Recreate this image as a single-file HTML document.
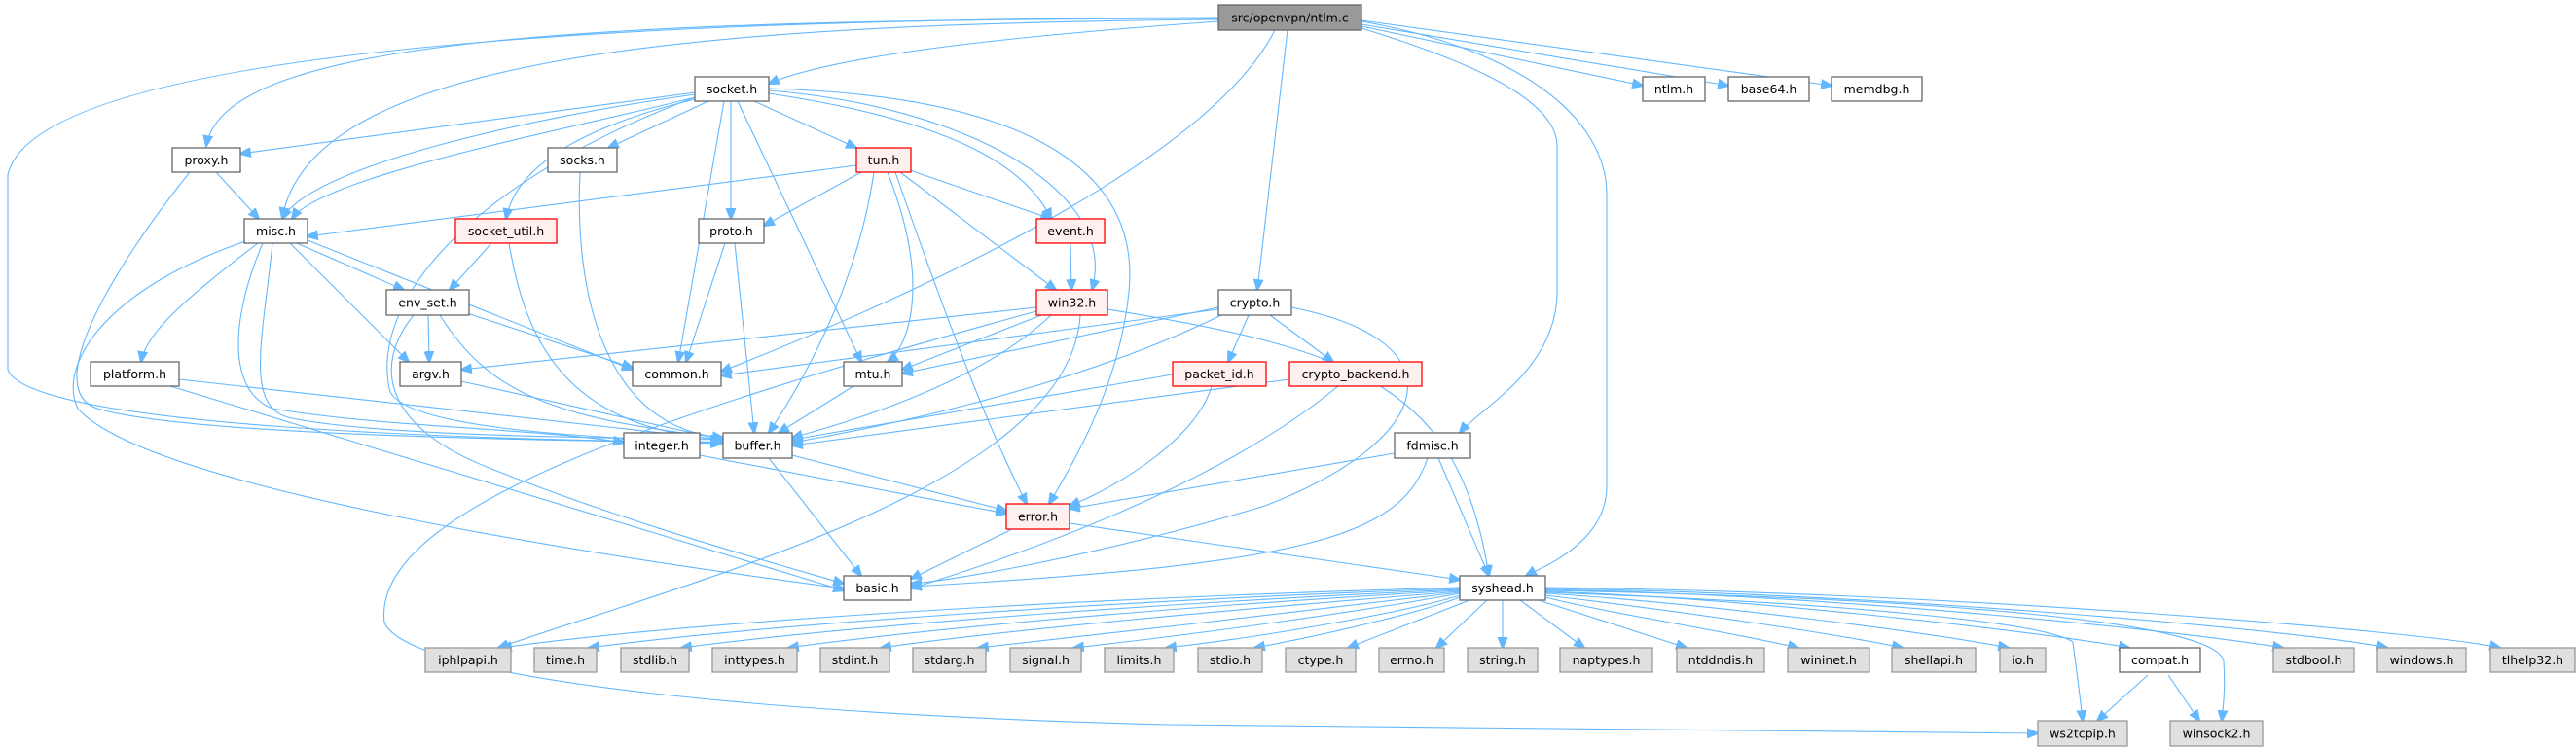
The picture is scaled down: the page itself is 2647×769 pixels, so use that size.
<!DOCTYPE html>
<html><head><meta charset="utf-8"><style>
html,body{margin:0;padding:0;background:#fff;}
svg{display:block;}
text{font-family:"DejaVu Sans","Liberation Sans",sans-serif;font-size:12.5px;fill:#000;text-anchor:middle;dominant-baseline:central;}
.e{fill:none;stroke:#63b8ff;stroke-width:1.1;marker-end:url(#a);}
.n rect{fill:#fff;stroke:#666;stroke-width:1.3;}
.r rect{fill:#fff0f0;stroke:#ff0000;stroke-width:1.3;}
.g rect{fill:#e0e0e0;stroke:#999;stroke-width:1.3;}
.t rect{fill:#999;stroke:#666;stroke-width:1.3;}
</style></head><body>
<svg width="2647" height="769" viewBox="0 0 2647 769" xmlns="http://www.w3.org/2000/svg">
<defs><marker id="a" viewBox="0 0 10 10" refX="9" refY="5" markerWidth="12" markerHeight="12" markerUnits="userSpaceOnUse" orient="auto"><path d="M0,1 L10,5 L0,9 z" fill="#63b8ff" stroke="#63b8ff"/></marker></defs>
<g>
<path class="e" d="M1252,22 C1000,40 850,60 790,86"/>
<path class="e" d="M1252,19 C600,20 230,40 212,150"/>
<path class="e" d="M1252,20 C700,25 320,60 290,224"/>
<path class="e" d="M1252,18 C400,20 30,80 8,180 L8,380 C30,440 500,452 741,455"/>
<path class="e" d="M1310,31 C1250,150 1000,280 741,382"/>
<path class="e" d="M1323,31 L1292,298"/>
<path class="e" d="M1399,27 L1688,88"/>
<path class="e" d="M1399,25 L1776,88"/>
<path class="e" d="M1399,21 L1882,88"/>
<path class="e" d="M1399,29 C1500,60 1600,100 1600,150 L1600,300 C1600,380 1520,420 1500,445"/>
<path class="e" d="M1399,22 C1560,50 1651,120 1651,200 L1651,500 C1651,560 1580,585 1568,592"/>
<path class="e" d="M714,95 L247,158"/>
<path class="e" d="M714,97 C550,120 320,170 290,225"/>
<path class="e" d="M714,100 C600,130 330,180 300,225"/>
<path class="e" d="M728,104 L625,152"/>
<path class="e" d="M714,102 C600,130 530,170 520,225"/>
<path class="e" d="M744,104 L697,372"/>
<path class="e" d="M751,104 L751,225"/>
<path class="e" d="M758,104 L885,372"/>
<path class="e" d="M775,104 L880,152"/>
<path class="e" d="M790,96 C950,120 1050,160 1080,225"/>
<path class="e" d="M790,93 C1000,110 1150,200 1122,298"/>
<path class="e" d="M790,91 C1100,100 1170,200 1160,300 C1150,400 1100,480 1078,518"/>
<path class="e" d="M714,100 C500,180 380,300 400,400 C410,440 600,450 743,455"/>
<path class="e" d="M880,170 L316,243"/>
<path class="e" d="M885,177 L785,232"/>
<path class="e" d="M898,177 C880,300 820,400 790,445"/>
<path class="e" d="M912,177 C960,300 930,360 912,372"/>
<path class="e" d="M920,177 C980,350 1020,450 1055,518"/>
<path class="e" d="M935,175 L1080,225"/>
<path class="e" d="M925,177 L1085,298"/>
<path class="e" d="M222,177 L266,225"/>
<path class="e" d="M195,177 C120,270 40,400 100,420 C200,450 600,452 741,456"/>
<path class="e" d="M305,250 L415,298"/>
<path class="e" d="M265,250 C200,300 150,340 145,372"/>
<path class="e" d="M298,250 L420,372"/>
<path class="e" d="M316,247 L650,380"/>
<path class="e" d="M280,250 C270,350 250,420 300,430 C400,450 650,450 741,452"/>
<path class="e" d="M270,250 C240,320 230,400 280,420 C400,440 550,440 641,455"/>
<path class="e" d="M255,247 C100,300 60,380 80,420 C150,500 600,570 867,605"/>
<path class="e" d="M505,250 L462,298"/>
<path class="e" d="M523,250 C540,350 580,440 743,452"/>
<path class="e" d="M596,177 C590,300 620,440 743,450"/>
<path class="e" d="M745,250 L705,372"/>
<path class="e" d="M755,250 L775,445"/>
<path class="e" d="M440,324 L441,372"/>
<path class="e" d="M480,322 L650,378"/>
<path class="e" d="M452,324 C500,400 560,430 743,450"/>
<path class="e" d="M425,324 C380,380 400,440 500,480 C650,540 800,580 867,600"/>
<path class="e" d="M184,390 L743,452"/>
<path class="e" d="M175,397 L867,607"/>
<path class="e" d="M474,392 L743,452"/>
<path class="e" d="M1100,250 L1101,298"/>
<path class="e" d="M1065,316 L474,380"/>
<path class="e" d="M1070,324 L927,380"/>
<path class="e" d="M1080,324 C1000,400 850,440 814,450"/>
<path class="e" d="M1138,318 C1400,360 1500,400 1530,592"/>
<path class="e" d="M1110,324 C1100,500 700,600 512,666"/>
<path class="e" d="M1065,320 C700,420 380,520 395,640 C420,700 800,735 1200,745 L2094,754"/>
<path class="e" d="M1252,316 L927,384"/>
<path class="e" d="M1255,324 C1100,400 900,440 814,455"/>
<path class="e" d="M1252,318 L741,386"/>
<path class="e" d="M1283,324 L1262,372"/>
<path class="e" d="M1305,324 L1370,372"/>
<path class="e" d="M1327,316 C1500,350 1480,450 1300,520 C1100,580 950,600 936,600"/>
<path class="e" d="M1205,385 L814,452"/>
<path class="e" d="M1245,397 C1230,450 1150,500 1099,520"/>
<path class="e" d="M1325,390 L814,458"/>
<path class="e" d="M1375,397 C1250,500 1050,570 936,605"/>
<path class="e" d="M877,397 L800,445"/>
<path class="e" d="M790,471 L885,592"/>
<path class="e" d="M814,468 L1034,525"/>
<path class="e" d="M719,468 L1034,528"/>
<path class="e" d="M1040,544 L936,595"/>
<path class="e" d="M1099,538 L1500,596"/>
<path class="e" d="M1433,466 L1099,523"/>
<path class="e" d="M1467,471 C1440,550 1350,580 936,603"/>
<path class="e" d="M1478,471 L1530,592"/>
<!-- syshead to system headers -->
<path class="e" d="M1500,604 C1100,615 700,640 515,666"/>
<path class="e" d="M1500,605 C1200,615 800,640 605,666"/>
<path class="e" d="M1500,606 C1250,617 900,640 700,666"/>
<path class="e" d="M1500,607 C1300,618 1000,640 810,666"/>
<path class="e" d="M1500,608 C1350,620 1050,645 905,666"/>
<path class="e" d="M1500,609 C1400,622 1150,650 1005,666"/>
<path class="e" d="M1500,610 C1420,625 1250,650 1103,666"/>
<path class="e" d="M1500,612 C1450,628 1300,655 1198,666"/>
<path class="e" d="M1500,614 C1460,630 1350,655 1289,666"/>
<path class="e" d="M1510,617 L1385,666"/>
<path class="e" d="M1528,617 L1476,666"/>
<path class="e" d="M1544,617 L1544,666"/>
<path class="e" d="M1562,617 L1628,666"/>
<path class="e" d="M1581,617 L1733,666"/>
<path class="e" d="M1588,614 C1650,630 1780,650 1848,666"/>
<path class="e" d="M1588,612 C1700,625 1880,650 1955,666"/>
<path class="e" d="M1588,610 C1750,620 1980,650 2064,666"/>
<path class="e" d="M1588,608 C1800,615 2100,650 2188,666"/>
<path class="e" d="M1588,606 C1900,612 2250,650 2346,666"/>
<path class="e" d="M1588,605 C1950,610 2380,650 2453,666"/>
<path class="e" d="M1588,604 C2000,608 2500,650 2569,666"/>
<path class="e" d="M1588,609 C1900,620 2100,640 2130,660 C2135,700 2138,720 2140,741"/>
<path class="e" d="M1588,607 C2000,615 2280,640 2285,680 C2287,710 2284,730 2283,741"/>
<path class="e" d="M2207,694 L2155,741"/>
<path class="e" d="M2228,694 L2260,741"/>
</g>
<g class="t"><rect x="1252" y="5" width="147" height="26"/><text x="1325.5" y="18">src/openvpn/ntlm.c</text></g>
<g class="n"><rect x="714" y="79" width="76" height="25"/><text x="752" y="91.5">socket.h</text></g>
<g class="n"><rect x="1688" y="79" width="64" height="25"/><text x="1720" y="91.5">ntlm.h</text></g>
<g class="n"><rect x="1776" y="79" width="83" height="25"/><text x="1817.5" y="91.5">base64.h</text></g>
<g class="n"><rect x="1882" y="79" width="93" height="25"/><text x="1928.5" y="91.5">memdbg.h</text></g>
<g class="n"><rect x="177" y="152" width="70" height="25"/><text x="212" y="164.5">proxy.h</text></g>
<g class="n"><rect x="563" y="152" width="71" height="25"/><text x="598.5" y="164.5">socks.h</text></g>
<g class="r"><rect x="880" y="152" width="56" height="25"/><text x="908" y="164.5">tun.h</text></g>
<g class="n"><rect x="251" y="225" width="65" height="25"/><text x="283.5" y="237.5">misc.h</text></g>
<g class="r"><rect x="468" y="225" width="104" height="25"/><text x="520" y="237.5">socket_util.h</text></g>
<g class="n"><rect x="718" y="225" width="67" height="25"/><text x="751.5" y="237.5">proto.h</text></g>
<g class="r"><rect x="1065" y="225" width="70" height="25"/><text x="1100" y="237.5">event.h</text></g>
<g class="n"><rect x="397" y="298" width="85" height="26"/><text x="439.5" y="311">env_set.h</text></g>
<g class="r"><rect x="1065" y="298" width="73" height="26"/><text x="1101.5" y="311">win32.h</text></g>
<g class="n"><rect x="1252" y="298" width="75" height="26"/><text x="1289.5" y="311">crypto.h</text></g>
<g class="n"><rect x="93" y="372" width="91" height="25"/><text x="138.5" y="384.5">platform.h</text></g>
<g class="n"><rect x="411" y="372" width="63" height="25"/><text x="442.5" y="384.5">argv.h</text></g>
<g class="n"><rect x="650" y="372" width="91" height="25"/><text x="695.5" y="384.5">common.h</text></g>
<g class="n"><rect x="867" y="372" width="60" height="25"/><text x="897" y="384.5">mtu.h</text></g>
<g class="r"><rect x="1205" y="372" width="96" height="25"/><text x="1253" y="384.5">packet_id.h</text></g>
<g class="r"><rect x="1325" y="372" width="136" height="25"/><text x="1393" y="384.5">crypto_backend.h</text></g>
<g class="n"><rect x="641" y="445" width="78" height="26"/><text x="680" y="458">integer.h</text></g>
<g class="n"><rect x="743" y="445" width="71" height="26"/><text x="778.5" y="458">buffer.h</text></g>
<g class="n"><rect x="1433" y="445" width="78" height="26"/><text x="1472" y="458">fdmisc.h</text></g>
<g class="r"><rect x="1034" y="518" width="65" height="26"/><text x="1066.5" y="531">error.h</text></g>
<g class="n"><rect x="867" y="592" width="69" height="25"/><text x="901.5" y="604.5">basic.h</text></g>
<g class="n"><rect x="1500" y="592" width="88" height="25"/><text x="1544" y="604.5">syshead.h</text></g>
<g class="g"><rect x="437" y="666" width="88" height="25"/><text x="481" y="678.5">iphlpapi.h</text></g>
<g class="g"><rect x="549" y="666" width="64" height="25"/><text x="581" y="678.5">time.h</text></g>
<g class="g"><rect x="638" y="666" width="70" height="25"/><text x="673" y="678.5">stdlib.h</text></g>
<g class="g"><rect x="732" y="666" width="87" height="25"/><text x="775.5" y="678.5">inttypes.h</text></g>
<g class="g"><rect x="843" y="666" width="71" height="25"/><text x="878.5" y="678.5">stdint.h</text></g>
<g class="g"><rect x="938" y="666" width="75" height="25"/><text x="975.5" y="678.5">stdarg.h</text></g>
<g class="g"><rect x="1038" y="666" width="73" height="25"/><text x="1074.5" y="678.5">signal.h</text></g>
<g class="g"><rect x="1135" y="666" width="71" height="25"/><text x="1170.5" y="678.5">limits.h</text></g>
<g class="g"><rect x="1231" y="666" width="66" height="25"/><text x="1264" y="678.5">stdio.h</text></g>
<g class="g"><rect x="1321" y="666" width="72" height="25"/><text x="1357" y="678.5">ctype.h</text></g>
<g class="g"><rect x="1417" y="666" width="67" height="25"/><text x="1450.5" y="678.5">errno.h</text></g>
<g class="g"><rect x="1508" y="666" width="72" height="25"/><text x="1544" y="678.5">string.h</text></g>
<g class="g"><rect x="1603" y="666" width="95" height="25"/><text x="1650.5" y="678.5">naptypes.h</text></g>
<g class="g"><rect x="1723" y="666" width="90" height="25"/><text x="1768" y="678.5">ntddndis.h</text></g>
<g class="g"><rect x="1837" y="666" width="84" height="25"/><text x="1879" y="678.5">wininet.h</text></g>
<g class="g"><rect x="1944" y="666" width="86" height="25"/><text x="1987" y="678.5">shellapi.h</text></g>
<g class="g"><rect x="2055" y="666" width="47" height="25"/><text x="2078.5" y="678.5">io.h</text></g>
<g class="n"><rect x="2178" y="666" width="83" height="25"/><text x="2219.5" y="678.5">compat.h</text></g>
<g class="g"><rect x="2336" y="666" width="83" height="25"/><text x="2377.5" y="678.5">stdbool.h</text></g>
<g class="g"><rect x="2443" y="666" width="91" height="25"/><text x="2488.5" y="678.5">windows.h</text></g>
<g class="g"><rect x="2559" y="666" width="87" height="25"/><text x="2602.5" y="678.5">tlhelp32.h</text></g>
<g class="g"><rect x="2094" y="741" width="92" height="26"/><text x="2140" y="754">ws2tcpip.h</text></g>
<g class="g"><rect x="2230" y="741" width="95" height="26"/><text x="2277.5" y="754">winsock2.h</text></g>
</svg>
</body></html>
